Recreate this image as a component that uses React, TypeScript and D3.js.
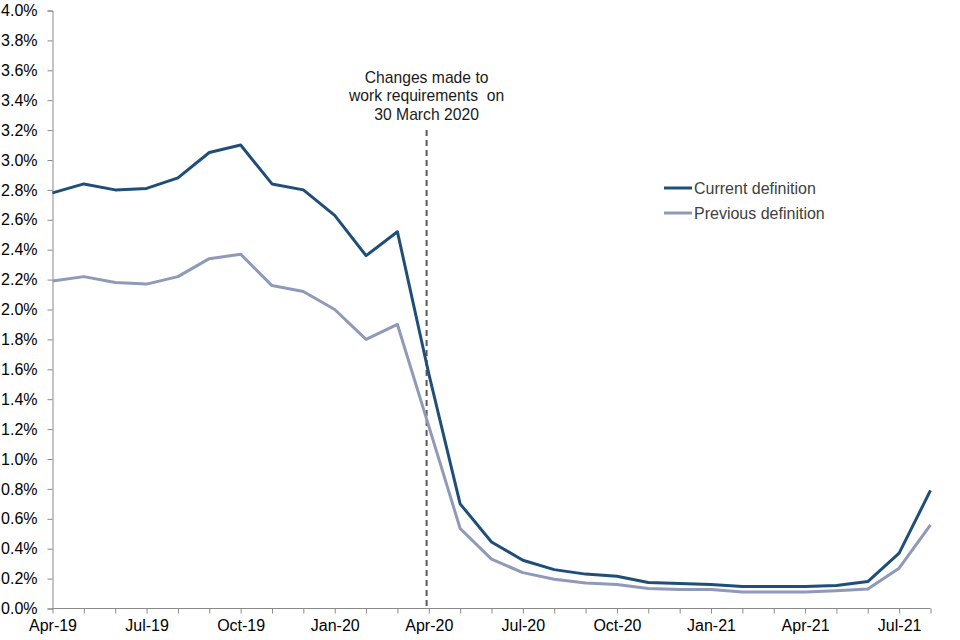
import React, { useRef, useEffect } from 'react';
import * as d3 from 'd3';

// months from Apr-19 to Aug-21
const months = [
  'Apr-19', 'May-19', 'Jun-19', 'Jul-19', 'Aug-19', 'Sep-19', 'Oct-19', 'Nov-19', 'Dec-19',
  'Jan-20', 'Feb-20', 'Mar-20', 'Apr-20', 'May-20', 'Jun-20', 'Jul-20', 'Aug-20', 'Sep-20',
  'Oct-20', 'Nov-20', 'Dec-20', 'Jan-21', 'Feb-21', 'Mar-21', 'Apr-21', 'May-21', 'Jun-21',
  'Jul-21', 'Aug-21',
];

const currentDef = [
  2.78, 2.84, 2.8, 2.81, 2.88, 3.05, 3.1, 2.84, 2.8,
  2.63, 2.36, 2.52, 1.57, 0.7, 0.445, 0.323, 0.26, 0.23,
  0.216, 0.174, 0.167, 0.16, 0.147, 0.147, 0.147, 0.154, 0.18,
  0.37, 0.79,
];

const previousDef = [
  2.19, 2.22, 2.18, 2.17, 2.22, 2.34, 2.37, 2.16, 2.12,
  2.0, 1.8, 1.9, 1.22, 0.535, 0.33, 0.24, 0.196, 0.17,
  0.16, 0.134, 0.127, 0.127, 0.11, 0.11, 0.11, 0.118, 0.13,
  0.27, 0.56,
];

const yTicks = d3.range(0, 4.01, 0.2);
const xLabels = ['Apr-19', 'Jul-19', 'Oct-19', 'Jan-20', 'Apr-20', 'Jul-20', 'Oct-20', 'Jan-21', 'Apr-21', 'Jul-21'];
const annotation = ['Changes made to', 'work requirements  on', '30 March 2020'];
// 30 March 2020, just before the Apr-20 point
const changeIndex = 11.93;

const App = () => {
  const Svg = useRef<SVGSVGElement>(null);

  useEffect(() => {
    document.body.style.margin = '0';
    const width = 960;
    const height = 640;
    const left = 52.5;
    const right = 930.5;
    const top = 10.5;
    const bottom = 608.5;
    const font = 'Liberation Sans, Arial, sans-serif';

    const svg = d3.select(Svg.current).attr('width', width).attr('height', height);
    svg.selectAll('*').remove();

    const x = d3.scaleLinear().domain([0, months.length - 1]).range([left, right]);
    const y = d3.scaleLinear().domain([0, 4]).range([bottom, top]);

    // y axis
    const yAxis = d3
      .axisLeft(y)
      .tickValues(yTicks)
      .tickSize(5)
      .tickPadding(10)
      .tickFormat((d) => d3.format('.1f')(d as number) + '%');
    const gy = svg.append('g').attr('transform', `translate(${left},0)`).call(yAxis);
    gy.select('.domain').attr('stroke', '#898989');
    gy.selectAll('.tick line').attr('stroke', '#898989');
    gy.selectAll('.tick text')
      .attr('font-family', font)
      .attr('font-size', 16)
      .attr('fill', '#000');

    // x axis, one tick per month
    const xAxis = d3
      .axisBottom(x)
      .tickValues(d3.range(months.length))
      .tickSize(5)
      .tickPadding(6)
      .tickFormat((d) => (xLabels.includes(months[d as number]) ? months[d as number] : ''));
    const gx = svg.append('g').attr('transform', `translate(0,${bottom})`).call(xAxis);
    gx.select('.domain').attr('stroke', '#898989').attr('d', `M${left},0H${right}`);
    gx.selectAll('.tick line').attr('stroke', '#898989');
    gx.selectAll('.tick text')
      .attr('font-family', font)
      .attr('font-size', 16)
      .attr('fill', '#000');

    // dashed marker
    svg
      .append('line')
      .attr('x1', x(changeIndex))
      .attr('x2', x(changeIndex))
      .attr('y1', 130)
      .attr('y2', bottom)
      .attr('stroke', '#595959')
      .attr('stroke-width', 2)
      .attr('stroke-dasharray', '6,4');

    svg
      .append('g')
      .selectAll('text')
      .data(annotation)
      .enter()
      .append('text')
      .attr('x', x(changeIndex))
      .attr('y', (d, i) => 83 + i * 18.4)
      .attr('text-anchor', 'middle')
      .attr('font-family', font)
      .attr('font-size', 15.7)
      .attr('fill', '#1a1a1a')
      .style('white-space', 'pre')
      .text((d) => d);

    const line = d3
      .line<number>()
      .x((d, i) => x(i))
      .y((d) => y(d));

    const series = [
      { name: 'Previous definition', values: previousDef, color: '#8e9ab8' },
      { name: 'Current definition', values: currentDef, color: '#1f4e79' },
    ];

    series.forEach((s) => {
      svg
        .append('path')
        .datum(s.values)
        .attr('d', line)
        .attr('fill', 'none')
        .attr('stroke', s.color)
        .attr('stroke-width', 3)
        .attr('stroke-linejoin', 'round');
    });

    // legend
    const legend = svg.append('g').attr('transform', 'translate(664,188)');
    series
      .slice()
      .reverse()
      .forEach((s, i) => {
        legend
          .append('line')
          .attr('x1', 0)
          .attr('x2', 28)
          .attr('y1', i * 25)
          .attr('y2', i * 25)
          .attr('stroke', s.color)
          .attr('stroke-width', 3);
        legend
          .append('text')
          .attr('x', 30)
          .attr('y', i * 25 + 5.5)
          .attr('font-family', font)
          .attr('font-size', 16)
          .attr('fill', '#404040')
          .text(s.name);
      });
  }, []);

  return <svg ref={Svg} style={{ display: 'block' }} />;
};

export default App;
